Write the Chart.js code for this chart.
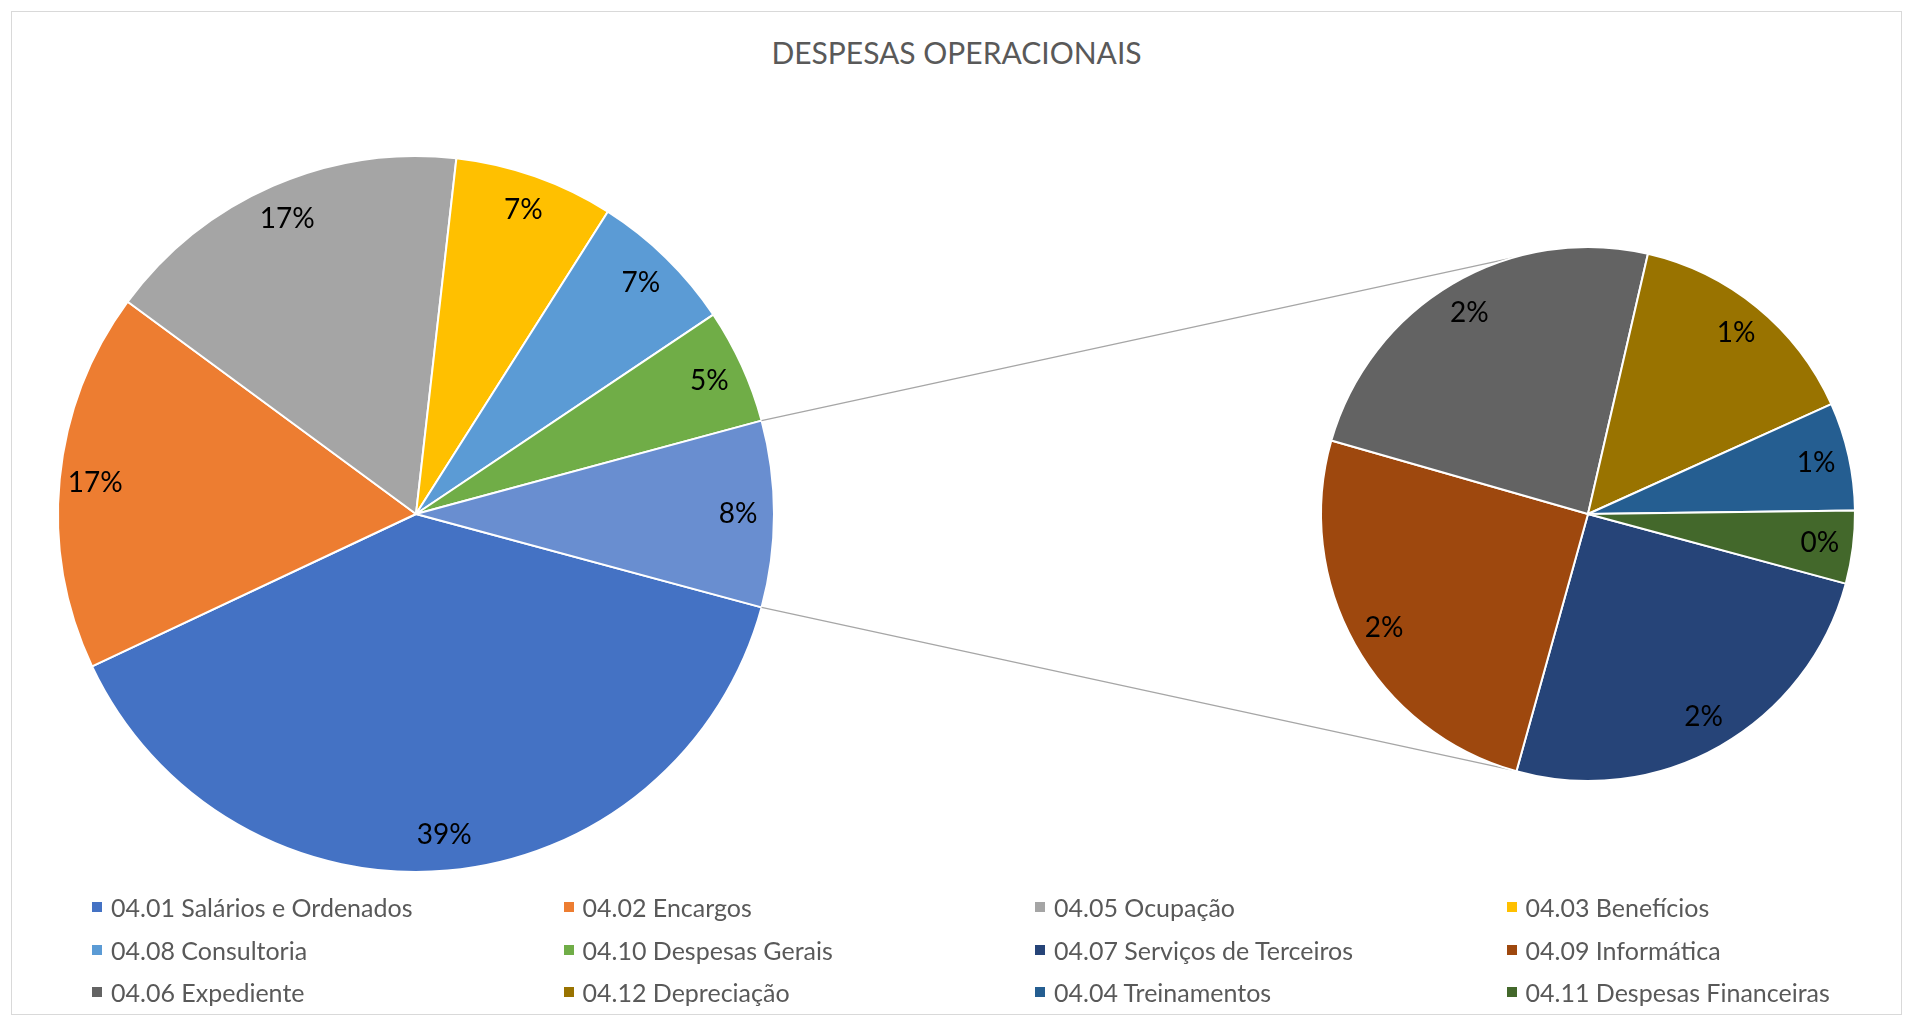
<!DOCTYPE html>
<html>
<head>
<meta charset="utf-8">
<script src="https://cdn.jsdelivr.net/npm/chart.js@4.4.1/dist/chart.umd.min.js"></script>
<style>
  body { margin: 0; background: #fff; font-family: Lato, "Noto Sans", sans-serif; }
  #frame { position: absolute; left: 11px; top: 11px; width: 1889px; height: 1002px; border: 1px solid #d9d9d9; }
  #title { position: absolute; left: 11px; width: 1891px; top: 32px; height: 40px; line-height: 40px;
           text-align: center; font-size: 30px; color: #595959; }
  canvas { position: absolute; left: 0; top: 0; }
  #legend { position: absolute; left: 92px; top: 886px; display: grid;
            grid-template-columns: repeat(4, 471.5px); grid-auto-rows: 42.5px; }
  .item { display: flex; align-items: center; font-size: 25px; color: #595959; white-space: nowrap; }
  .box { width: 10px; height: 10px; margin-right: 9px; flex: none; }
</style>
</head>
<body>
<div id="frame"></div>
<div id="title">DESPESAS OPERACIONAIS</div>
<canvas id="mainPie" width="1920" height="1032"></canvas>
<canvas id="subPie" width="1920" height="1032"></canvas>
<div id="legend"></div>
<script>
// first pie
const mainLabels = ['04.01 Salários e Ordenados', '04.02 Encargos', '04.05 Ocupação',
                    '04.03 Benefícios', '04.08 Consultoria', '04.10 Despesas Gerais'];
const mainValues = [38.8, 17.1, 16.7, 7.2, 6.6, 5.2];
const mainColors = ['#4472C4', '#ED7D31', '#A5A5A5', '#FFC000', '#5B9BD5', '#70AD47'];

// second pie (the "other" slice split up)
const subLabels = ['04.07 Serviços de Terceiros', '04.09 Informática', '04.06 Expediente',
                   '04.12 Depreciação', '04.04 Treinamentos', '04.11 Despesas Financeiras'];
const subValues = [2.11, 2.11, 2.03, 1.23, 0.55, 0.37];
const subColors = ['#264478', '#9E480E', '#636363', '#997300', '#255E91', '#43682B'];

const otherColor = '#698ED0';

const sum = arr => arr.reduce((a, b) => a + b, 0);
const otherTotal = sum(subValues);
const grandTotal = sum(mainValues) + otherTotal;
// other slice centred on 3 o'clock
const rotation = 90 + (otherTotal / grandTotal) * 180;

// percentage labels inside the slices
const pctLabels = {
  id: 'pctLabels',
  afterDatasetsDraw(chart, args, opts) {
    const ctx = chart.ctx;
    const meta = chart.getDatasetMeta(0);
    const values = chart.data.datasets[0].data;
    ctx.save();
    ctx.font = '28px Lato, "Noto Sans", sans-serif';
    ctx.fillStyle = '#000';
    ctx.textAlign = 'center';
    ctx.textBaseline = 'middle';
    meta.data.forEach((arc, i) => {
      const mid = (arc.startAngle + arc.endAngle) / 2;
      const r = arc.outerRadius * opts.ratio;
      const txt = Math.round(values[i] / grandTotal * 100) + '%';
      ctx.fillText(txt, arc.x + Math.cos(mid) * r, arc.y + Math.sin(mid) * r);
    });
    ctx.restore();
  }
};

function pieOptions(pad, ratio) {
  return {
    responsive: false,
    animation: false,
    events: [],
    rotation: rotation,
    layout: { padding: pad },
    plugins: {
      legend: { display: false },
      tooltip: { enabled: false },
      pctLabels: { ratio: ratio }
    }
  };
}

const mainChart = new Chart(document.getElementById('mainPie'), {
  type: 'pie',
  data: {
    labels: [...mainLabels, 'Outros'],
    datasets: [{
      data: [...mainValues, otherTotal],
      backgroundColor: [...mainColors, otherColor],
      borderColor: '#fff',
      borderWidth: 2
    }]
  },
  options: pieOptions({ left: 57, right: 1145, top: 155, bottom: 159 }, 0.9),
  plugins: [pctLabels]
});

// lines from the "other" slice to the second pie
const connectAngle = 106.4 * Math.PI / 180;
const connectors = {
  id: 'connectors',
  beforeDatasetsDraw(chart) {
    const other = mainChart.getDatasetMeta(0).data[mainValues.length];
    const sub = chart.getDatasetMeta(0).data[0];
    const ctx = chart.ctx;
    const R = other.outerRadius, r = sub.outerRadius;
    const ends = [[other.startAngle, -connectAngle], [other.endAngle, connectAngle]];
    ctx.save();
    ctx.strokeStyle = '#a6a6a6';
    ctx.lineWidth = 1.3;
    ends.forEach(([a, b]) => {
      ctx.beginPath();
      ctx.moveTo(other.x + Math.cos(a) * R, other.y + Math.sin(a) * R);
      ctx.lineTo(sub.x + Math.cos(b) * r, sub.y + Math.sin(b) * r);
      ctx.stroke();
    });
    ctx.restore();
  }
};

new Chart(document.getElementById('subPie'), {
  type: 'pie',
  data: {
    labels: subLabels,
    datasets: [{
      data: subValues,
      backgroundColor: subColors,
      borderColor: '#fff',
      borderWidth: 2
    }]
  },
  options: pieOptions({ left: 1320, right: 64, top: 246, bottom: 250 }, 0.875),
  plugins: [connectors, pctLabels]
});

// html legend, 4 columns
const legend = document.getElementById('legend');
[...mainLabels, ...subLabels].forEach((lbl, i) => {
  const color = [...mainColors, ...subColors][i];
  const item = document.createElement('div');
  item.className = 'item';
  item.innerHTML = '<span class="box" style="background:' + color + '"></span>' + lbl;
  legend.appendChild(item);
});
</script>
</body>
</html>
